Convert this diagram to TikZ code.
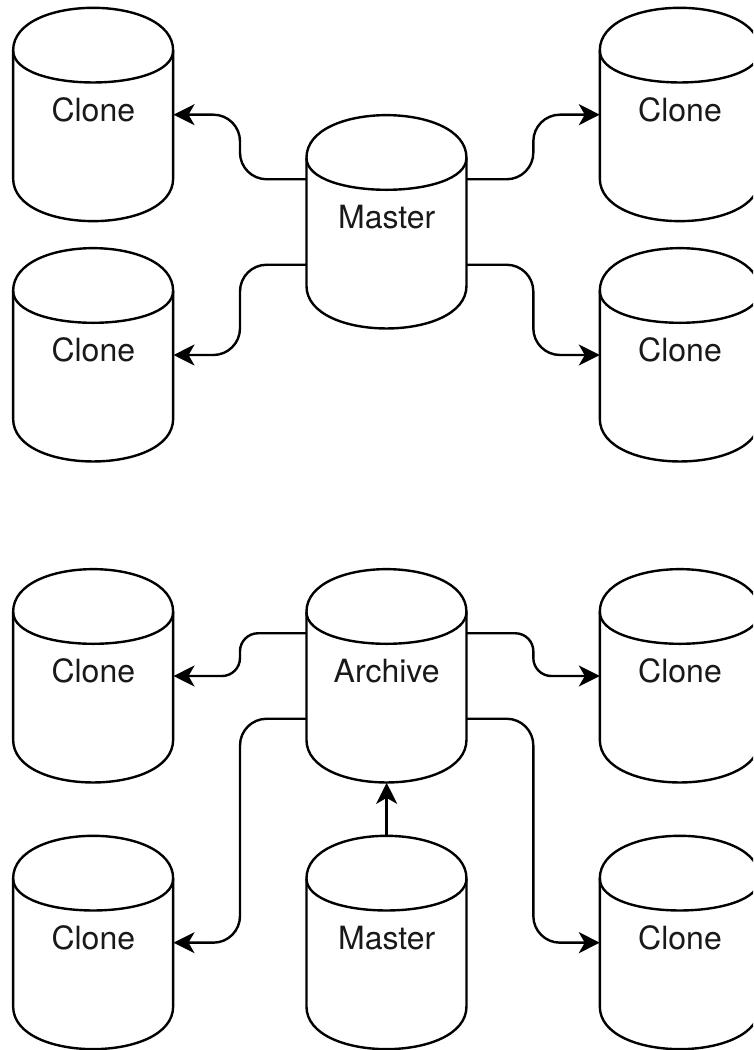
\documentclass[tikz,border=0pt]{standalone}
\usepackage{fontspec}
\setmainfont{TeX Gyre Heros}
\usetikzlibrary{arrows.meta,calc}

\tikzset{
  db/.style={rectangle, inner sep=0pt, minimum width=160pt, minimum height=213.33pt},
  dbline/.style={line width=2.4pt, line join=round},
  tip/.tip={Stealth[length=21pt,width=21pt,inset=6pt]},
  link/.style={line width=2.4pt, -tip},
  wideturn/.style={rounded corners=26.67pt},
  tightturn/.style={rounded corners=18pt},
  caption/.style={inner sep=0pt, font=\fontsize{32}{38}\selectfont, text=black!90}
}

% database cylinder drawn around a db node, with its caption
\newcommand\dbshape[2]{%
  \begin{scope}[shift={(#1.north west)}]
    \draw[dbline] (0,-42.67) .. controls (0,14.22) and (160,14.22) .. (160,-42.67)
      -- (160,-170.67) .. controls (160,-227.55) and (0,-227.55) .. (0,-170.67) -- cycle;
    \draw[dbline] (0,-42.67) .. controls (0,-85.33) and (160,-85.33) .. (160,-42.67);
  \end{scope}
  \node[caption] (#1txt) at ($(#1.center)+(0,5)$) {#2};}

\begin{document}
\begin{tikzpicture}[x=1pt,y=1pt]
  \useasboundingbox (0,0) rectangle (753,-1050);
  \clip (0,0) rectangle (753,-1050);

  % upper group: master feeding four clones
  \node[db] (c1) at (93.33,-114.67) {};
  \node[db] (c2) at (93.33,-355) {};
  \node[db] (m1) at (386.67,-222) {};
  \node[db] (c3) at (680,-114.67) {};
  \node[db] (c4) at (680,-355) {};

  % lower group: master feeding an archive that feeds four clones
  \node[db] (c5) at (93.33,-676) {};
  \node[db] (ar) at (386.67,-676) {};
  \node[db] (c6) at (680,-676) {};
  \node[db] (c7) at (93.33,-942.67) {};
  \node[db] (m2) at (386.67,-942.67) {};
  \node[db] (c8) at (680,-942.67) {};

  \dbshape{c1}{Clone}
  \dbshape{c2}{Clone}
  \dbshape{m1}{Master}
  \dbshape{c3}{Clone}
  \dbshape{c4}{Clone}
  \dbshape{c5}{Clone}
  \dbshape{ar}{Archive}
  \dbshape{c6}{Clone}
  \dbshape{c7}{Clone}
  \dbshape{m2}{Master}
  \dbshape{c8}{Clone}

  % vertical lanes between the columns
  \coordinate (laneL) at (240,0);
  \coordinate (laneR) at (533.33,0);

  % exit points on the hub cylinders
  \coordinate (m1lu) at ($(m1.north west)!0.3!(m1.south west)$);
  \coordinate (m1ld) at ($(m1.north west)!0.7!(m1.south west)$);
  \coordinate (m1ru) at ($(m1.north east)!0.3!(m1.south east)$);
  \coordinate (m1rd) at ($(m1.north east)!0.7!(m1.south east)$);
  \coordinate (arlu) at ($(ar.north west)!0.3!(ar.south west)$);
  \coordinate (arld) at ($(ar.north west)!0.7!(ar.south west)$);
  \coordinate (arru) at ($(ar.north east)!0.3!(ar.south east)$);
  \coordinate (arrd) at ($(ar.north east)!0.7!(ar.south east)$);

  % upper connectors (rounded turns, sharp arrow tips)
  \draw[link] (m1lu) [wideturn] -- (m1lu -| laneL) -- (c1.east -| laneL) [sharp corners] -- (c1.east);
  \draw[link] (m1ld) [wideturn] -- (m1ld -| laneL) -- (c2.east -| laneL) [sharp corners] -- (c2.east);
  \draw[link] (m1ru) [wideturn] -- (m1ru -| laneR) -- (c3.west -| laneR) [sharp corners] -- (c3.west);
  \draw[link] (m1rd) [wideturn] -- (m1rd -| laneR) -- (c4.west -| laneR) [sharp corners] -- (c4.west);

  % lower connectors
  \draw[link] (arlu) [tightturn] -- (arlu -| laneL) -- (c5.east -| laneL) [sharp corners] -- (c5.east);
  \draw[link] (arru) [tightturn] -- (arru -| laneR) -- (c6.west -| laneR) [sharp corners] -- (c6.west);
  \draw[link] (arld) [wideturn] -- (arld -| laneL) -- (c7.east -| laneL) [sharp corners] -- (c7.east);
  \draw[link] (arrd) [wideturn] -- (arrd -| laneR) -- (c8.west -| laneR) [sharp corners] -- (c8.west);
  \draw[link] (m2.north) -- (ar.south);
\end{tikzpicture}
\end{document}
